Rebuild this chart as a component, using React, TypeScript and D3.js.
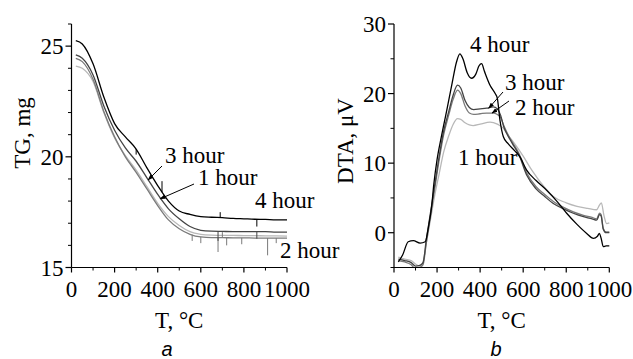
import React from "react";
import * as d3 from "d3";

// ---- TG panel (a) ----
const tgTemps = [20, 50, 100, 150, 200, 250, 300, 350, 400, 450, 500, 550, 600, 650, 700, 750, 800, 850, 900, 950, 1000];
const tg4h = [25.25, 25.1, 24.2, 22.7, 21.5, 20.9, 20.35, 19.5, 18.7, 18.0, 17.55, 17.4, 17.3, 17.27, 17.25, 17.22, 17.2, 17.18, 17.17, 17.15, 17.15];
const tg3h = [24.6, 24.45, 23.7, 22.3, 21.2, 20.4, 19.8, 19.05, 18.3, 17.65, 17.2, 16.85, 16.68, 16.64, 16.63, 16.62, 16.62, 16.62, 16.62, 16.6, 16.6];
const tg1h = [24.1, 24.0, 23.4, 22.0, 20.85, 20.05, 19.4, 18.65, 17.9, 17.3, 16.9, 16.62, 16.5, 16.46, 16.45, 16.45, 16.44, 16.44, 16.43, 16.43, 16.42];
const tg2h = [24.45, 24.3, 23.5, 22.05, 20.9, 20.0, 19.3, 18.55, 17.8, 17.15, 16.75, 16.5, 16.38, 16.35, 16.35, 16.34, 16.34, 16.33, 16.33, 16.33, 16.33];

// spikes in the TG records: temperature, curve level, spike tip
const tgSpikes4h = [[300, 20.35, 20.1], [420, 18.4, 18.9], [690, 17.25, 17.5], [860, 17.18, 16.85]];
const tgSpikes2h = [[560, 16.48, 16.2], [600, 16.38, 16.1], [680, 16.35, 15.7], [700, 16.35, 16.6], [720, 16.35, 16.0], [790, 16.34, 16.05], [910, 16.33, 15.55], [950, 16.33, 16.1]];
const tgSpikes3h = [[680, 16.63, 16.2], [860, 16.62, 16.3]];

// ---- DTA panel (b) ----
const dta4hT = [20, 40, 66, 90, 121, 145, 160, 175, 185, 200, 220, 245, 270, 290, 306, 320, 340, 360, 380, 395, 407, 420, 446, 470, 480, 492, 508, 530, 560, 585, 616, 660, 709, 760, 802, 850, 895, 926, 945, 954, 962, 972, 985, 1000];
const dta4h = [-4.2, -3.2, -1.3, -1.15, -1.5, -1.3, 0.8, 3.8, 7.0, 10.5, 13.8, 17.6, 21.5, 24.5, 25.7, 25.0, 23.0, 22.2, 22.8, 24.0, 24.3, 23.2, 21.2, 20.0, 19.3, 16.2, 13.8, 12.8, 11.8, 10.9, 9.0, 7.5, 6.1, 4.4, 2.8, 1.2, -0.1, -0.8, -0.5, -0.1, -0.8, -2.0, -1.9, -1.9];
const dtaT = [20, 50, 80, 100, 120, 135, 150, 170, 190, 210, 230, 255, 275, 295, 310, 330, 350, 370, 400, 430, 461, 480, 495, 510, 523, 550, 580, 616, 660, 700, 740, 790, 833, 880, 920, 941, 955, 962, 972, 985, 1000];
const dta3h = [-3.8, -4.0, -4.3, -4.8, -4.7, -4.3, -1.0, 3.0, 7.0, 11.0, 14.5, 17.5, 19.8, 21.2, 20.8, 19.0, 18.0, 17.7, 17.8, 17.9, 18.1, 17.8, 16.9, 15.2, 14.3, 12.8, 11.2, 8.3, 6.3, 5.2, 4.2, 3.4, 2.8, 2.3, 2.0, 1.8, 2.6, 2.4, 0.5, 0.0, 0.0];
const dta2h = [-4.0, -4.2, -4.6, -5.2, -5.0, -4.6, -1.5, 2.5, 6.5, 10.5, 14.0, 17.0, 19.2, 20.5, 20.0, 18.2, 17.2, 17.0, 17.1, 17.2, 17.2, 17.0, 16.6, 15.4, 14.5, 13.0, 11.4, 8.6, 6.6, 5.5, 4.5, 3.6, 3.0, 2.5, 2.2, 2.0, 2.8, 2.6, 0.6, 0.1, 0.1];
const dta1hT = [20, 50, 80, 100, 120, 135, 150, 170, 190, 210, 230, 255, 275, 295, 310, 330, 350, 368, 400, 446, 480, 508, 530, 560, 600, 640, 700, 740, 800, 850, 900, 941, 955, 963, 975, 988, 1000];
const dta1h = [-3.5, -3.8, -4.0, -4.5, -4.8, -4.2, -1.5, 2.0, 5.5, 8.5, 11.5, 14.0, 15.6, 16.4, 16.3, 15.8, 15.5, 15.4, 15.6, 15.9, 15.6, 15.0, 14.0, 12.8, 11.0, 9.0, 6.5, 5.2, 4.3, 3.8, 3.5, 3.3, 4.0, 4.3, 2.5, 1.3, 1.4];

const xTicks = [0, 200, 400, 600, 800, 1000];
const xMinor = [100, 300, 500, 700, 900];
const tgTicks = [15, 20, 25];
const tgMinor = [16, 17, 18, 19, 21, 22, 23, 24, 26];
const dtaTicks = [0, 10, 20, 30];
const dtaMinor = [-5, 5, 15, 25];

const SERIF = { fontFamily: "'Liberation Serif', 'Times New Roman', serif", fontSize: 23 };
const C4 = "#000";
const C3 = "#444";
const C2 = "#7a7a7a";
const C1 = "#b8b8b8";

type Pt = [number, number];
const zip = (t: number[], v: number[]): Pt[] => t.map((d, i) => [d, v[i]]);

function Axes({ x, y, ticks, minor, xLabel, yLabel, yLabelX, yLabelY, panel, panelX }: any) {
  const [x0, x1] = x.range();
  const [yb, yt] = y.range();
  return (
    <g style={SERIF} fill="#000">
      <line x1={x0} x2={x0} y1={yt} y2={yb} stroke="#000" strokeWidth={1.2} />
      <line x1={x0} x2={x1} y1={yb} y2={yb} stroke="#000" strokeWidth={1.2} />
      {ticks.map((t: number) => (
        <g key={"y" + t}>
          <line x1={x0 - 6} x2={x0} y1={y(t)} y2={y(t)} stroke="#000" strokeWidth={1.2} />
          <text x={x0 - 8} y={y(t)} dy="0.35em" textAnchor="end">{t}</text>
        </g>
      ))}
      {minor.map((t: number) => (
        <line key={"ym" + t} x1={x0 - 3.5} x2={x0} y1={y(t)} y2={y(t)} stroke="#000" strokeWidth={1} />
      ))}
      {xTicks.map((t) => (
        <g key={"x" + t}>
          <line x1={x(t)} x2={x(t)} y1={yb} y2={yb + 5} stroke="#000" strokeWidth={1.2} />
          <text x={x(t)} y={yb + 29} textAnchor="middle">{t}</text>
        </g>
      ))}
      {xMinor.map((t) => (
        <line key={"xm" + t} x1={x(t)} x2={x(t)} y1={yb} y2={yb + 3} stroke="#000" strokeWidth={1} />
      ))}
      <text x={(x0 + x1) / 2} y={328} textAnchor="middle">{xLabel}</text>
      <text transform={`translate(${yLabelX},${yLabelY}) rotate(-90)`} textAnchor="middle">{yLabel}</text>
      <text x={panelX} y={356} textAnchor="middle" style={{ fontFamily: "'Liberation Sans', Arial, sans-serif", fontStyle: "italic", fontSize: 20 }}>{panel}</text>
    </g>
  );
}

export default function App() {
  const xa = d3.scaleLinear().domain([0, 1000]).range([71.5, 287]);
  const ya = d3.scaleLinear().domain([15, 26]).range([267.5, 24]);
  const xb = d3.scaleLinear().domain([0, 1000]).range([394, 609.3]);
  const yb = d3.scaleLinear().domain([-5, 30]).range([267.5, 24]);

  const la = d3.line<Pt>().x((d) => xa(d[0])).y((d) => ya(d[1])).curve(d3.curveMonotoneX);
  const lb = d3.line<Pt>().x((d) => xb(d[0])).y((d) => yb(d[1])).curve(d3.curveMonotoneX);

  const tgSeries = [
    { v: tg1h, c: C1 },
    { v: tg2h, c: C2 },
    { v: tg3h, c: C3 },
    { v: tg4h, c: C4 },
  ];
  const spikes = [
    { s: tgSpikes2h, c: C2 },
    { s: tgSpikes3h, c: C3 },
    { s: tgSpikes4h, c: C4 },
  ];
  const dtaSeries = [
    { d: zip(dta1hT, dta1h), c: C1 },
    { d: zip(dtaT, dta2h), c: C2 },
    { d: zip(dtaT, dta3h), c: C3 },
    { d: zip(dta4hT, dta4h), c: C4 },
  ];

  const arrow = (x1: number, y1: number, x2: number, y2: number, k: string) => (
    <line key={k} x1={x1} y1={y1} x2={x2} y2={y2} stroke="#000" strokeWidth={1} markerEnd="url(#ah)" />
  );

  return (
    <svg width={633} height={359} style={{ position: "absolute", left: 0, top: 0, background: "#fff" }}>
      <defs>
        <marker id="ah" viewBox="0 0 10 10" refX="9" refY="5" markerWidth="6" markerHeight="6" orient="auto">
          <path d="M0,1.5 L10,5 L0,8.5 z" fill="#000" />
        </marker>
        <clipPath id="ca"><rect x={71.5} y={20} width={220} height={247.5} /></clipPath>
        <clipPath id="cb"><rect x={394} y={20} width={220} height={247.5} /></clipPath>
      </defs>

      <g clipPath="url(#ca)">
        {tgSeries.map((s, i) => (
          <path key={i} d={la(zip(tgTemps, s.v)) || ""} fill="none" stroke={s.c} strokeWidth={1.3} />
        ))}
        {spikes.map((g, i) =>
          g.s.map((p, j) => (
            <line key={i + "-" + j} x1={xa(p[0])} x2={xa(p[0])} y1={ya(p[1])} y2={ya(p[2])} stroke={g.c} strokeWidth={1} />
          ))
        )}
      </g>
      <Axes x={xa} y={ya} ticks={tgTicks} minor={tgMinor} xLabel="T, °C" yLabel="TG, mg" yLabelX={30} yLabelY={133} panel="a" panelX={167} />

      <g clipPath="url(#cb)">
        {dtaSeries.map((s, i) => (
          <path key={i} d={lb(s.d) || ""} fill="none" stroke={s.c} strokeWidth={1.3} />
        ))}
      </g>
      <Axes x={xb} y={yb} ticks={dtaTicks} minor={dtaMinor} xLabel="T, °C" yLabel="DTA, μV" yLabelX={353} yLabelY={141} panel="b" panelX={496} />

      <g style={SERIF}>
        <text x={165} y={163}>3 hour</text>
        <text x={198} y={185}>1 hour</text>
        <text x={255} y={208}>4 hour</text>
        <text x={280} y={258}>2 hour</text>
        <text x={470} y={52}>4 hour</text>
        <text x={505} y={90}>3 hour</text>
        <text x={515} y={115}>2 hour</text>
        <text x={458} y={165}>1 hour</text>
      </g>
      {arrow(162, 166, xa(355), ya(18.95), "a1")}
      {arrow(194, 184, xa(411), ya(18.1), "a2")}
      {arrow(503, 92, xb(440), yb(17.9), "a3")}
      {arrow(509, 101, xb(455), yb(17.2), "a4")}
    </svg>
  );
}
